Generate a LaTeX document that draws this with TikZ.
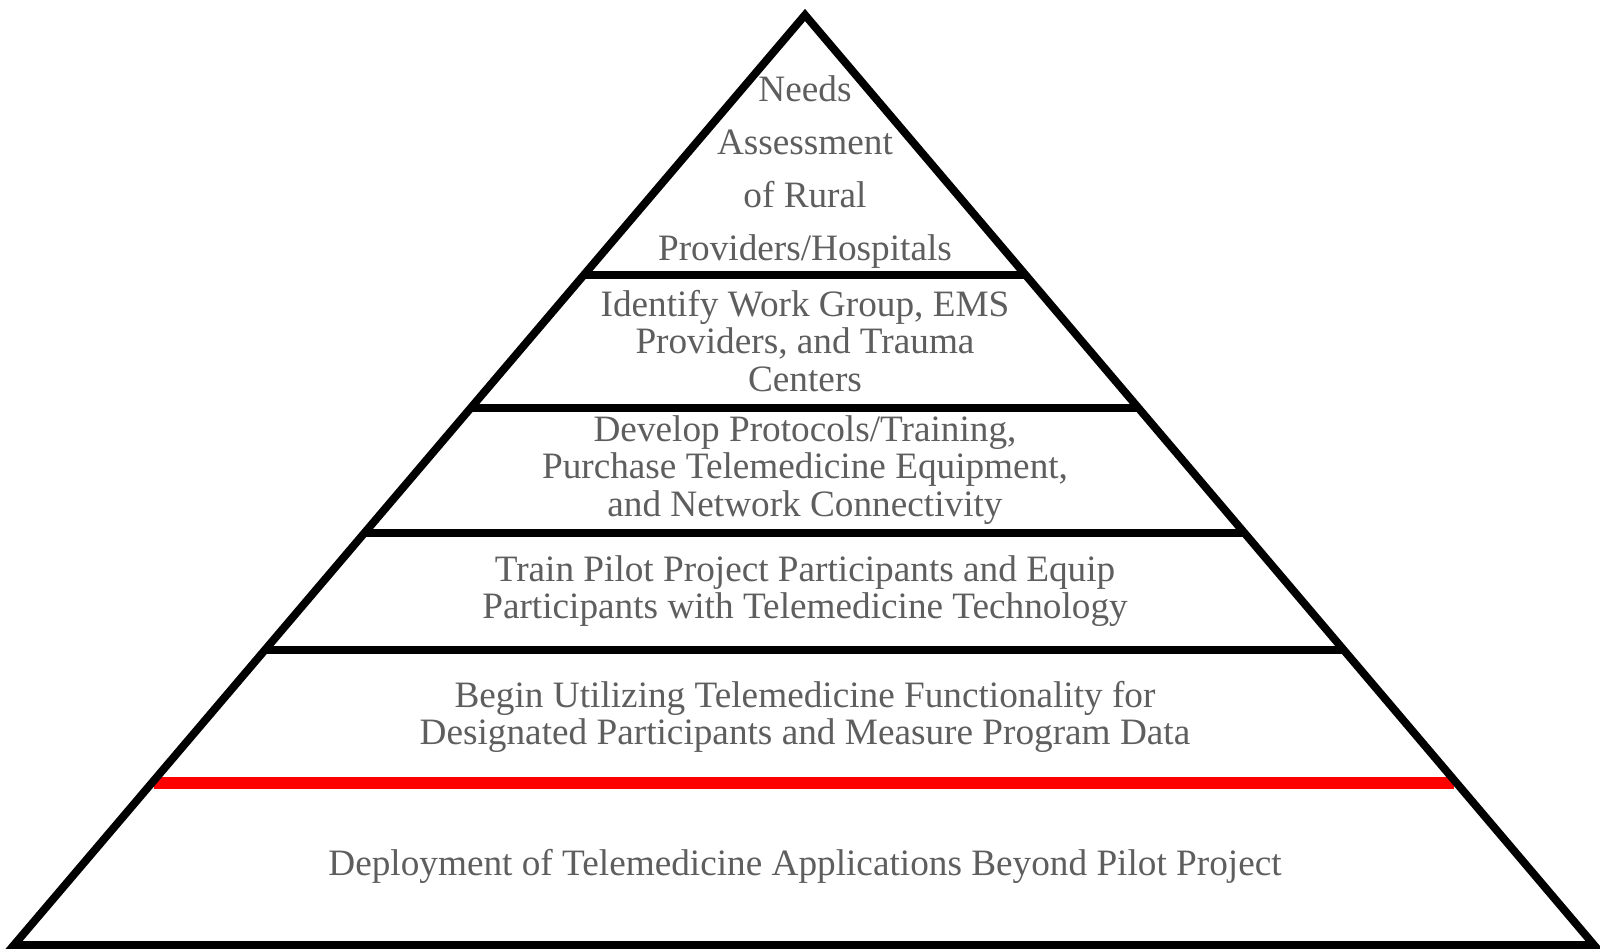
\documentclass[tikz,border=0pt]{standalone}
\usepackage{fontspec}
\setmainfont{Liberation Serif}
\usetikzlibrary{calc}
\definecolor{pyrink}{HTML}{000000}
\definecolor{pyrtext}{HTML}{5E5E5E}
\definecolor{pyrred}{HTML}{FF0000}
\begin{document}
\begin{tikzpicture}[x=0.02cm,y=-0.02cm,line join=miter,
  font=\fontsize{21.2}{21.3}\selectfont,text=pyrtext,
  edge/.style={line width=4.5pt,draw=pyrink},
  tier/.style={align=center,inner sep=0pt}]
\path[use as bounding box] (0,0) rectangle (1600,949);
\fill[white] (0,0) rectangle (1600,949);
\coordinate (top) at (805,15);
\coordinate (bl) at (14,945);
\coordinate (br) at (1594,945);

% dividers and outline
\draw[line width=6.8pt,pyrred,shorten <=1.5pt,shorten >=1.5pt] ($(top)!.826!(bl)$) -- ($(top)!.826!(br)$);
\foreach \t in {.2796,.4224,.5567,.6832}
  \draw[edge] ($(top)!\t!(bl)$) -- ($(top)!\t!(br)$);
\draw[edge] (top) -- (br) -- (bl) -- cycle;

% tier labels
\node[tier,font=\fontsize{21.2}{30}\selectfont] (needs) at (805,172) {Needs\\Assessment\\of Rural\\Providers/Hospitals};
\node[tier] (group) at (805,341) {Identify Work Group, EMS\\Providers, and Trauma\\Centers};
\node[tier] (proto) at (805,470) {Develop Protocols/Training,\\Purchase Telemedicine Equipment,\\and Network Connectivity};
\node[tier] (train) at (805,591) {Train Pilot Project Participants and Equip\\Participants with Telemedicine Technology};
\node[tier] (begin) at (805,717) {Begin Utilizing Telemedicine Functionality for\\Designated Participants and Measure Program Data};
\node[tier] (deploy) at (805,866) {Deployment of Telemedicine Applications Beyond Pilot Project};
\end{tikzpicture}
\end{document}
